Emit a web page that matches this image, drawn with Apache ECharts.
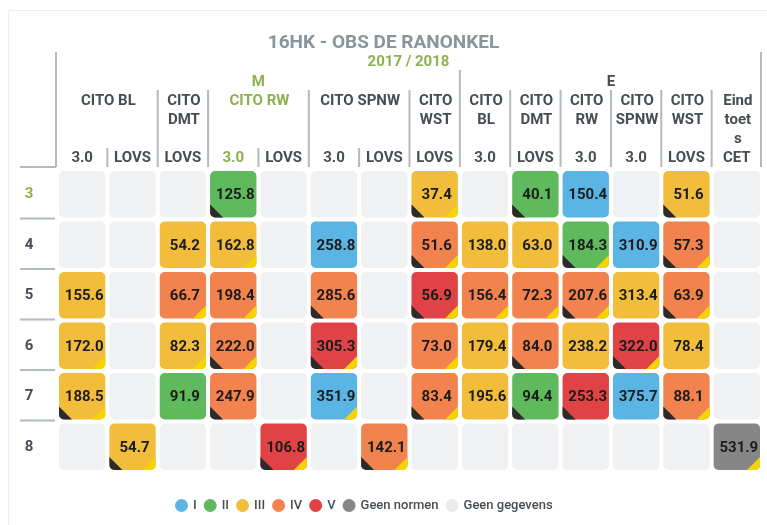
<!DOCTYPE html>
<html>
<head>
<meta charset="utf-8">
<title>16HK - OBS DE RANONKEL</title>
<script src="https://cdn.jsdelivr.net/npm/echarts@6/dist/echarts.min.js"></script>
<style>
  html, body { margin: 0; padding: 0; background: #fff; }
  #chart { width: 767px; height: 525px; }
</style>
</head>
<body>
<div id="chart"></div>
<script>
// header structure
const groupNames = ['M', 'E']
const groupSpans = [8, 6]
const subjectNames = ['CITO BL', 'CITO\nDMT', 'CITO RW', 'CITO SPNW', 'CITO\nWST',
  'CITO\nBL', 'CITO\nDMT', 'CITO\nRW', 'CITO\nSPNW', 'CITO\nWST', 'Eind\ntoet\ns']
const subjectSpans = [2, 1, 2, 2, 1, 1, 1, 1, 1, 1, 1]
const testTypes = ['3.0', 'LOVS', 'LOVS', '3.0', 'LOVS', '3.0', 'LOVS', 'LOVS',
  '3.0', 'LOVS', '3.0', '3.0', 'LOVS', 'CET']
const columnIds = testTypes.map((t, i) => 'c' + i)
const grades = ['3', '4', '5', '6', '7', '8']

// scores per grade row (null = geen gegevens)
const scores = [
  [null, null, null, 125.8, null, null, null, 37.4, null, 40.1, 150.4, null, 51.6, null],
  [null, null, 54.2, 162.8, null, 258.8, null, 51.6, 138.0, 63.0, 184.3, 310.9, 57.3, null],
  [155.6, null, 66.7, 198.4, null, 285.6, null, 56.9, 156.4, 72.3, 207.6, 313.4, 63.9, null],
  [172.0, null, 82.3, 222.0, null, 305.3, null, 73.0, 179.4, 84.0, 238.2, 322.0, 78.4, null],
  [188.5, null, 91.9, 247.9, null, 351.9, null, 83.4, 195.6, 94.4, 253.3, 375.7, 88.1, null],
  [null, 54.7, null, null, 106.8, null, 142.1, null, null, null, null, null, null, 531.9]
]
// level: 1..5 = I..V, 6 = geen normen, 0 = geen gegevens
const levels = [
  [0, 0, 0, 2, 0, 0, 0, 3, 0, 2, 1, 0, 3, 0],
  [0, 0, 3, 3, 0, 1, 0, 4, 3, 3, 2, 1, 4, 0],
  [3, 0, 4, 4, 0, 4, 0, 5, 4, 4, 4, 3, 4, 0],
  [3, 0, 3, 4, 0, 5, 0, 4, 3, 4, 3, 5, 3, 0],
  [3, 0, 2, 4, 0, 1, 0, 4, 3, 2, 5, 1, 4, 0],
  [0, 3, 0, 0, 5, 0, 4, 0, 0, 0, 0, 0, 0, 6]
]
// corner markers: 1 = black (left), 2 = yellow (right), 3 = both
const markers = [
  [0, 0, 0, 1, 0, 0, 0, 3, 0, 1, 0, 0, 1, 0],
  [0, 0, 0, 2, 0, 0, 0, 3, 0, 0, 3, 0, 3, 0],
  [0, 0, 2, 2, 0, 1, 0, 3, 2, 2, 3, 0, 3, 0],
  [2, 0, 2, 3, 0, 3, 0, 2, 0, 1, 0, 3, 0, 0],
  [3, 0, 0, 1, 0, 2, 0, 3, 0, 1, 1, 0, 3, 0],
  [0, 3, 0, 0, 3, 0, 3, 0, 0, 0, 0, 0, 0, 2]
]
const levelNames = ['Geen gegevens', 'I', 'II', 'III', 'IV', 'V', 'Geen normen']
const levelColors = ['#f0f1f3', '#5ab5e4', '#5fba5e', '#f3bd3c', '#f2834f', '#e04346', '#868686']

const GREEN = '#8db14e'
const DARK = '#474d53'
const LINE = '#b2bac0'
const FONT = 'Roboto, sans-serif'
const highlightCol = 3
const highlightRow = 0

const chart = echarts.init(document.getElementById('chart'))

const renderCell = (showLabel) => (params, api) => {
  const c = api.coord([api.value(0), api.value(1)])
  const s = api.size([1, 1])
  const w = s[0] - 4
  const h = s[1] - 4
  const x = c[0] - w / 2
  const y = c[1] - h / 2
  const r = 5
  const t = 13
  const flags = api.value(3)
  const children = [{
    type: 'rect',
    shape: { x, y, width: w, height: h, r },
    style: { fill: api.visual('color') }
  }]
  const arc = (cx, cy, from, to) => {
    const pts = []
    for (let k = 0; k <= 4; k++) {
      const a = (from + (to - from) * k / 4) * Math.PI / 180
      pts.push([cx + r * Math.cos(a), cy + r * Math.sin(a)])
    }
    return pts
  }
  if (flags & 1) {
    children.push({
      type: 'polygon',
      shape: { points: [[x, y + h - t], [x + t, y + h]].concat(arc(x + r, y + h - r, 90, 180)) },
      style: { fill: '#2b2b2b' }
    })
  }
  if (flags & 2) {
    children.push({
      type: 'polygon',
      shape: { points: [[x + w, y + h - t]].concat(arc(x + w - r, y + h - r, 0, 90), [[x + w - t, y + h]]) },
      style: { fill: '#f5d400' }
    })
  }
  if (showLabel) {
    children.push({
      type: 'text',
      style: {
        x: c[0] + 2, y: c[1] + 1,
        text: api.value(2).toFixed(1),
        align: 'center', verticalAlign: 'middle',
        font: 'bold 15px ' + FONT, fill: '#1c1c1c'
      }
    })
  }
  return { type: 'group', children }
}

const buildData = (level) => {
  const out = []
  grades.forEach((g, ri) => {
    columnIds.forEach((cid, ci) => {
      if (levels[ri][ci] === level) out.push([ci, ri, scores[ri][ci] ?? 0, markers[ri][ci]])
    })
  })
  return out
}

const legendOrder = [1, 2, 3, 4, 5, 6, 0]
const series = legendOrder.map(lv => ({
  name: levelNames[lv],
  type: 'custom',
  renderItem: renderCell(lv !== 0),
  itemStyle: { color: levelColors[lv] },
  encode: { x: 0, y: 1 },
  data: buildData(lv),
  z: lv === 0 ? 1 : 2
}))

const option = {
  animation: false,
  title: {
    text: '16HK - OBS DE RANONKEL',
    left: 'center',
    top: 29,
    textStyle: { color: '#8a949c', fontSize: 19, fontWeight: 'bold', fontFamily: FONT }
  },
  legend: {
    data: legendOrder.map(lv => ({
      name: levelNames[lv],
      itemStyle: { color: lv === 0 ? '#ebebeb' : levelColors[lv] }
    })),
    left: 170,
    top: 494,
    icon: 'circle',
    itemWidth: 13,
    itemHeight: 13,
    itemGap: 7,
    textStyle: { color: DARK, fontSize: 13, fontWeight: 500, fontFamily: FONT }
  },
  grid: { left: 57, right: 5, top: 169, bottom: 53 },
  xAxis: {
    type: 'category',
    position: 'top',
    data: columnIds,
    axisLine: { show: false },
    axisTick: { show: false },
    splitLine: { show: false },
    axisLabel: {
      margin: 3,
      formatter: (v, i) => testTypes[i],
      color: (v, i) => (i === highlightCol ? GREEN : DARK),
      fontSize: 15,
      fontWeight: 'bold',
      fontFamily: FONT
    }
  },
  yAxis: {
    type: 'category',
    inverse: true,
    data: grades,
    axisLine: { show: false },
    axisTick: { show: false },
    splitLine: { show: false },
    axisLabel: {
      margin: 28,
      align: 'center',
      color: (v, i) => (i === highlightRow ? GREEN : DARK),
      fontSize: 15,
      fontWeight: 'bold',
      fontFamily: FONT
    }
  },
  series
}

chart.setOption(option)

// header texts and separator lines, placed from the axis positions
const drawHeader = () => {
  const px = i => chart.convertToPixel({ xAxisIndex: 0 }, columnIds[i])
  const py = i => chart.convertToPixel({ yAxisIndex: 0 }, grades[i])
  const bw = px(1) - px(0)
  const bh = py(1) - py(0)
  const leftEdge = px(0) - bw / 2 - 1
  const rightEdge = px(columnIds.length - 1) + bw / 2 - 1
  const headBottom = py(0) - bh / 2 - 2
  const lineStyle = { stroke: LINE, lineWidth: 2 }
  const vline = (x, y1) => ({ type: 'line', shape: { x1: x, y1, x2: x, y2: headBottom }, style: lineStyle })
  const els = []

  els.push({
    type: 'rect', shape: { x: 8.5, y: 10.5, width: 900, height: 700 },
    style: { fill: null, stroke: '#eeeeee', lineWidth: 1 }, z: -1
  })
  els.push({
    type: 'text', x: (leftEdge + rightEdge) / 2, y: 62,
    style: { text: '2017 / 2018', fill: GREEN, font: 'bold 15px ' + FONT, align: 'center', verticalAlign: 'middle' }
  })

  let start = 0
  groupNames.forEach((g, gi) => {
    const end = start + groupSpans[gi] - 1
    els.push({
      type: 'text', x: (px(start) + px(end)) / 2, y: 82,
      style: { text: g, fill: gi === 0 ? GREEN : DARK, font: 'bold 15px ' + FONT, align: 'center', verticalAlign: 'middle' }
    })
    if (gi < groupNames.length - 1) els.push(vline(px(end) + bw / 2, 70))
    start = end + 1
  })

  start = 0
  subjectNames.forEach((sname, si) => {
    const end = start + subjectSpans[si] - 1
    const hl = highlightCol >= start && highlightCol <= end
    els.push({
      type: 'text', x: (px(start) + px(end)) / 2 + 1, y: 92,
      style: {
        text: sname, fill: hl ? GREEN : DARK, font: 'bold 15px ' + FONT,
        align: 'center', verticalAlign: 'top', lineHeight: 19
      }
    })
    for (let k = start; k < end; k++) els.push(vline(px(k) + bw / 2, 148))
    if (end < columnIds.length - 1 && end !== groupSpans[0] - 1) els.push(vline(px(end) + bw / 2, 90))
    start = end + 1
  })

  els.push(vline(leftEdge, 52))
  els.push(vline(rightEdge, 52))
  els.push({ type: 'line', shape: { x1: 20, y1: headBottom, x2: leftEdge, y2: headBottom }, style: lineStyle })
  for (let i = 1; i < grades.length; i++) {
    const y = py(i) - bh / 2 - 1
    els.push({ type: 'line', shape: { x1: 20, y1: y, x2: leftEdge - 1, y2: y }, style: lineStyle })
  }
  chart.setOption({ graphic: els })
}

drawHeader()
window.addEventListener('resize', () => { chart.resize(); drawHeader() })
</script>
</body>
</html>
